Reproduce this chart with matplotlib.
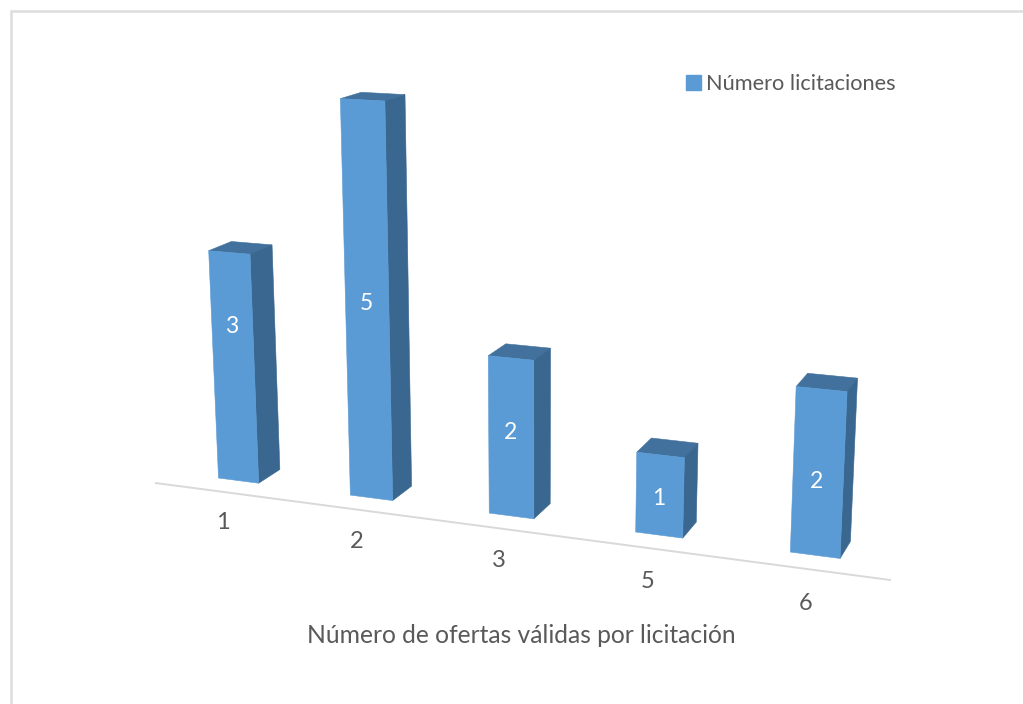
import numpy as np
import matplotlib
matplotlib.use("Agg")
import matplotlib.pyplot as plt
from matplotlib.patches import Polygon, Patch

categories = ["1", "2", "3", "5", "6"]
values = [3, 5, 2, 1, 2]
series_name = "Número licitaciones"
x_title = "Número de ofertas válidas por licitación"

FRONT, SIDE, TOP = "#5B9BD5", "#39678F", "#41719C"
TEXT = "#595959"
FRAME = "#DDDDDD"
BAR_HALF = 0.155

# Camera of the 3-D chart: (category, depth, value) -> canvas pixels
CAMERA = np.array([
    [1.2352875e+02, 2.6906089e+01, -5.3835183e+00, 2.3850887e+02],
    [4.6137712e+00, -3.9495402e+00, -7.8590953e+01, 4.8060478e+02],
    [-2.5291717e-02, 2.0742077e-02, -1.0068041e-02, 1.0000000e+00],
])


def project(x, y, z):
    h = CAMERA @ np.array([x, y, z, 1.0])
    return h[0] / h[2], h[1] / h[2]


fig = plt.figure(figsize=(10.23, 7.04), dpi=100)
ax = fig.add_axes([0, 0, 1, 1])
ax.set_xlim(0, 1023)
ax.set_ylim(704, 0)
ax.axis("off")
plt.rcParams["font.family"] = ["Lato", "DejaVu Sans"]

# outer chart frame
ax.plot([11, 11, 1023], [704, 11, 11], color=FRAME, lw=1.8, solid_joinstyle="miter", zorder=1)

# category axis floor line
ax.plot(*zip(project(-0.503, -0.78, 0), project(4.506, -0.78, 0)), color="#D9D9D9", lw=1.4, zorder=1)


def face(points, colour):
    ax.add_patch(Polygon([project(*p) for p in points], closed=True, facecolor=colour,
                         edgecolor=colour, lw=0.4, zorder=2))


label_levels = [0.68, 0.5, 0.53, 0.46, 0.45]
for i, (cat, v) in enumerate(zip(categories, values)):
    l, r = i - BAR_HALF, i + BAR_HALF
    face([(l, 0, v), (r, 0, v), (r, 1, v), (l, 1, v)], TOP)
    face([(r, 0, 0), (r, 1, 0), (r, 1, v), (r, 0, v)], SIDE)
    face([(l, 0, 0), (r, 0, 0), (r, 0, v), (l, 0, v)], FRONT)
    tx, ty = project(i - 0.007, 0, v * label_levels[i])
    ax.text(tx, ty, str(v), color="white", fontsize=16.5, ha="center", va="center", zorder=3)
    lx, ly = project(i + 0.305 - 0.047 * i, -2.47, 0)
    ax.text(lx, ly, cat, color=TEXT, fontsize=17, ha="center", va="center", zorder=3)

ax.text(521, 635.5, x_title, color=TEXT, fontsize=17.75, ha="center", va="center")

leg = ax.legend(handles=[Patch(facecolor=FRONT, edgecolor=FRONT, label=series_name)],
                loc="center left", bbox_to_anchor=(679, 84), bbox_transform=ax.transData,
                frameon=False, fontsize=15.7, labelcolor=TEXT, handlelength=0.72, handleheight=0.72,
                handletextpad=0.2, borderpad=0, borderaxespad=0.3)

fig.savefig("out.png", dpi=100, facecolor="white")
